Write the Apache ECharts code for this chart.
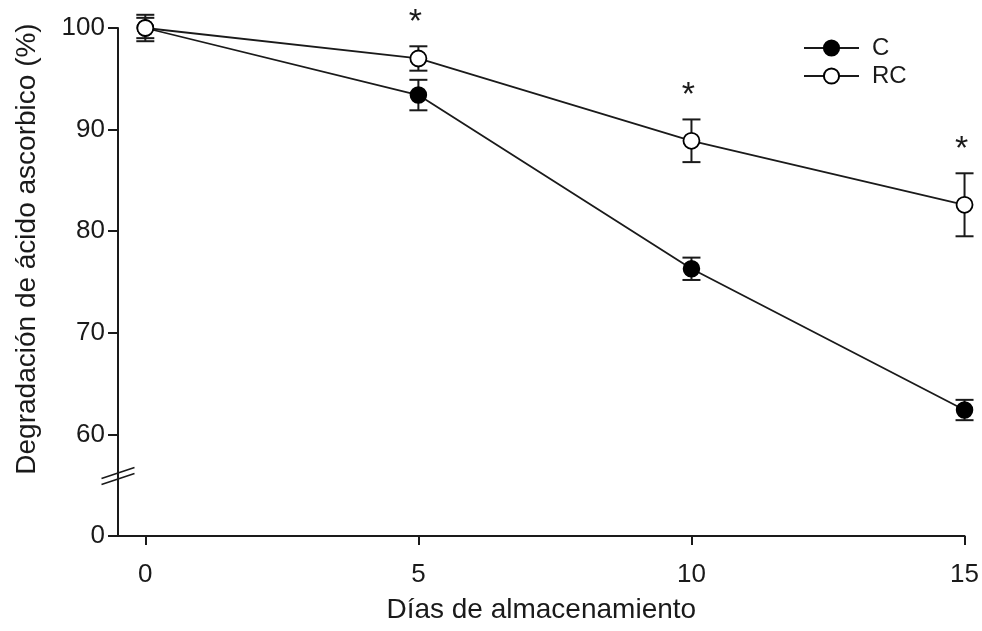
<!DOCTYPE html>
<html><head><meta charset="utf-8">
<script src="https://cdn.jsdelivr.net/npm/echarts@6/dist/echarts.min.js"></script>
<style>html,body{margin:0;padding:0;background:#fff}#c{width:982px;height:631px}</style>
</head><body><div id="c"></div>
<script>
// ---- data ----
const days = [0, 5, 10, 15];
const seriesNames = ['C', 'RC'];
const valuesC = [100, 93.4, 76.3, 62.4];
const errC = [1.0, 1.5, 1.1, 1.0];
const valuesRC = [100, 97.0, 88.9, 82.6];
const errRC = [1.3, 1.2, 2.1, 3.1];
const significant = [false, true, true, true]; // asterisks above RC
const xTickValues = [0, 5, 10, 15];
const yTickValues = [50, 60, 70, 80, 90, 100];   // 50 is the broken-axis position of 0
const yTickLabels = ['0', '60', '70', '80', '90', '100'];
const yBreakValue = 55.9;
const xTitle = 'Días de almacenamiento';
const yTitle = 'Degradación de ácido ascorbico (%)';

const FONT = '"Liberation Sans", Arial, sans-serif';
const INK = '#1a1a1a';

const chart = echarts.init(document.getElementById('c'), null, {renderer: 'canvas'});

function errData(vals, errs) {
  return days.map((d, i) => [d, vals[i] - errs[i], vals[i] + errs[i]]);
}
function errRender(params, api) {
  const x = api.value(0), lo = api.value(1), hi = api.value(2);
  const a = api.coord([x, lo]), b = api.coord([x, hi]);
  const hw = 9;
  const st = {stroke: INK, lineWidth: 2};
  return {type: 'group', children: [
    {type: 'line', shape: {x1: a[0], y1: a[1], x2: b[0], y2: b[1]}, style: st},
    {type: 'line', shape: {x1: b[0] - hw, y1: b[1], x2: b[0] + hw, y2: b[1]}, style: st},
    {type: 'line', shape: {x1: a[0] - hw, y1: a[1], x2: a[0] + hw, y2: a[1]}, style: st}
  ]};
}
const starData = days.map((d, i) => significant[i] ? [d, valuesRC[i] + errRC[i]] : null).filter(Boolean);

const option = {
  animation: false,
  backgroundColor: '#fff',
  textStyle: {fontFamily: FONT, color: INK},
  grid: {left: 118, right: 17, top: 28, bottom: 95},
  legend: {
    data: seriesNames,
    orient: 'vertical',
    left: 803, top: 36, padding: 0,
    itemWidth: 55, itemHeight: 19, itemGap: 4,
    textStyle: {fontSize: 24, color: INK, fontFamily: FONT, padding: [0, 0, 0, 8]}
  },
  xAxis: {
    type: 'value', min: -0.5, max: 15,
    name: xTitle, nameLocation: 'middle', nameGap: 60,
    nameTextStyle: {fontSize: 28, color: INK, fontFamily: FONT},
    axisLine: {show: true, onZero: false, lineStyle: {color: INK, width: 2}},
    axisTick: {show: true, length: 9, lineStyle: {color: INK, width: 2}, customValues: xTickValues},
    axisLabel: {fontSize: 26, color: INK, fontFamily: FONT, margin: 26, customValues: xTickValues},
    splitLine: {show: false}
  },
  yAxis: {
    type: 'value', min: 50, max: 100, interval: 10,
    axisLine: {show: true, onZero: false, lineStyle: {color: INK, width: 2}},
    axisTick: {show: true, length: 10, lineStyle: {color: INK, width: 2}},
    axisLabel: {fontSize: 26, color: INK, fontFamily: FONT, margin: 13,
      formatter: v => { const k = yTickValues.indexOf(v); return k >= 0 ? yTickLabels[k] : ''; }},
    splitLine: {show: false}
  },
  graphic: [{
    type: 'text', x: 27, y: 249, rotation: Math.PI / 2,
    style: {text: yTitle, fontSize: 28, fontFamily: FONT, fill: INK, align: 'center', verticalAlign: 'middle'}
  }],
  series: [
    {type: 'custom', name: 'errC', z: 1, renderItem: errRender, data: errData(valuesC, errC), encode: {x: 0, y: [1, 2]}, silent: true},
    {type: 'custom', name: 'errRC', z: 1, renderItem: errRender, data: errData(valuesRC, errRC), encode: {x: 0, y: [1, 2]}, silent: true},
    {
      type: 'line', name: 'C', z: 3,
      data: days.map((d, i) => [d, valuesC[i]]),
      symbol: 'circle', symbolSize: 16,
      lineStyle: {color: INK, width: 1.8},
      itemStyle: {color: '#000', borderColor: '#000', borderWidth: 1.5}
    },
    {
      type: 'line', name: 'RC', z: 4,
      data: days.map((d, i) => [d, valuesRC[i]]),
      symbol: 'circle', symbolSize: 16,
      lineStyle: {color: INK, width: 1.8},
      itemStyle: {color: '#fff', borderColor: '#000', borderWidth: 1.8}
    },
    {
      type: 'custom', name: 'stars', z: 5, silent: true,
      data: starData, encode: {x: 0, y: 1},
      renderItem: (params, api) => {
        const p = api.coord([api.value(0), api.value(1)]);
        return {type: 'text', x: p[0] - 3, y: p[1] - 24,
          style: {text: '*', fontSize: 34, fontFamily: FONT, fill: INK, align: 'center', verticalAlign: 'middle'}};
      }
    },
    {
      type: 'custom', name: 'break', z: 6, silent: true, clip: false,
      data: [[-0.5, yBreakValue]], encode: {x: 0, y: 1},
      renderItem: (params, api) => {
        const p = api.coord([api.value(0), api.value(1)]);
        const hw = 16.5, dy = 5.5, gap = 3;
        const st = {stroke: INK, lineWidth: 1.6};
        return {type: 'group', children: [
          {type: 'line', shape: {x1: p[0] - hw, y1: p[1] - gap + dy, x2: p[0] + hw, y2: p[1] - gap - dy}, style: st},
          {type: 'line', shape: {x1: p[0] - hw, y1: p[1] + gap + dy, x2: p[0] + hw, y2: p[1] + gap - dy}, style: st}
        ]};
      }
    }
  ]
};
chart.setOption(option);
</script></body></html>
